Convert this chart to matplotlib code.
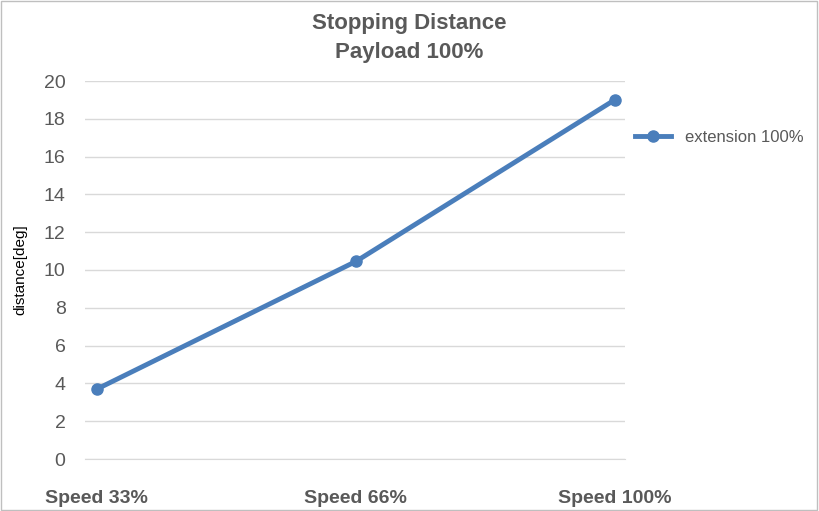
import matplotlib.pyplot as plt
from matplotlib.patches import Rectangle

categories = ["Speed 33%", "Speed 66%", "Speed 100%"]
distance = [3.7, 10.45, 19.0]
series_name = "extension 100%"

plt.rcParams['font.family'] = ['Liberation Sans', 'DejaVu Sans']

fig = plt.figure(figsize=(8.19, 5.11), dpi=100)
ax = fig.add_axes([85/819, 52/511, 540/819, 378/511])

x = list(range(len(categories)))
ax.plot(x, distance, color="#4a7ebb", linewidth=3.5, marker="o", markersize=8, label=series_name)

ax.set_xlim(-0.046, 2.04)
ax.set_ylim(0, 20)
ax.set_yticks(range(0, 21, 2))
ax.set_xticks(x)
ax.set_xticklabels(categories, fontsize=14, fontweight="bold", color="#595959")
ax.tick_params(axis="y", labelsize=14, colors="#595959", length=0, pad=14)
ax.tick_params(axis="x", length=0, pad=22)
ax.grid(axis="y", color="#d9d9d9", linewidth=1)
ax.set_axisbelow(True)
for s in ["top", "right", "left"]:
    ax.spines[s].set_visible(False)
ax.spines["bottom"].set_color("#d9d9d9")
ax.set_ylabel("distance[deg]", fontsize=11, color="#000000", labelpad=12)

fig.suptitle("Stopping Distance\nPayload 100%", fontsize=16, fontweight="bold", color="#595959", y=0.975, linespacing=1.5)

ax.legend(loc="upper left", bbox_to_anchor=(0.99, 0.91), frameon=False, fontsize=12, handlelength=2.2, labelcolor="#595959")

fig.patches.append(Rectangle((0.001, 0.002), 0.997, 0.996, transform=fig.transFigure, fill=False, edgecolor="#bfbfbf", linewidth=1))

fig.savefig("out.png", dpi=100)
